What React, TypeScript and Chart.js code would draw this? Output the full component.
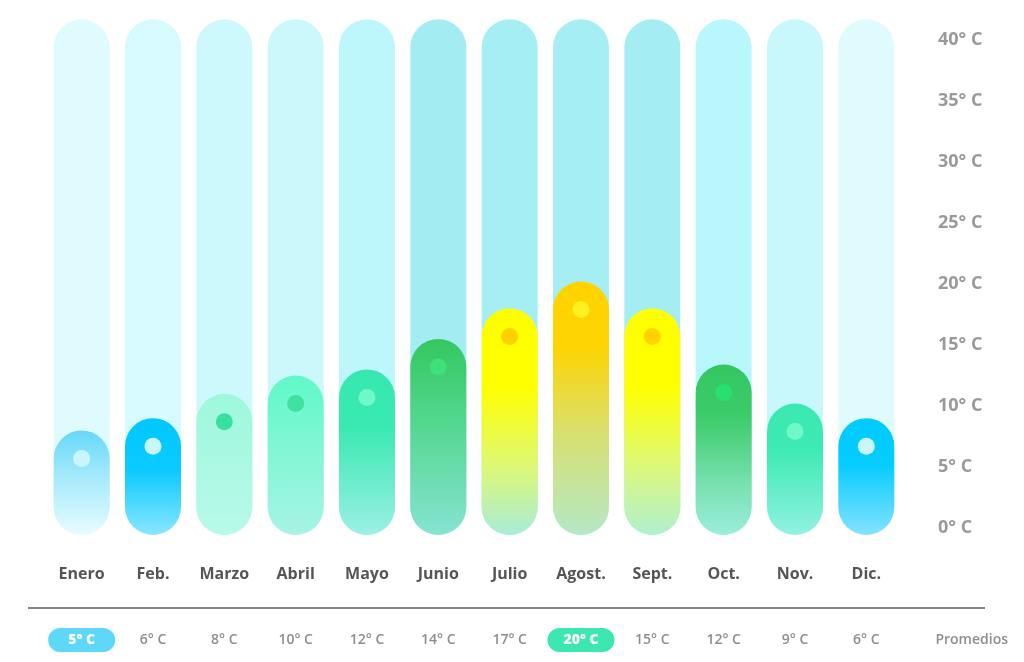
import React, { useEffect, useRef } from "react";
import { Chart, registerables } from "chart.js";

Chart.register(...registerables);

const MONTHS = ["Enero", "Feb.", "Marzo", "Abril", "Mayo", "Junio", "Julio", "Agost.", "Sept.", "Oct.", "Nov.", "Dic."];
const MAX_TEMPS = [8, 9, 11, 12.5, 13, 15.5, 18, 20.2, 18, 13.4, 10.2, 9];
const SCALE_TOP = [41.7, 41.7, 41.7, 41.7, 41.7, 41.7, 41.7, 41.7, 41.7, 41.7, 41.7, 41.7];
const AVERAGES = [5, 6, 8, 10, 12, 14, 17, 20, 15, 12, 9, 6];
const Y_TICKS = [0, 5, 10, 15, 20, 25, 30, 35, 40];
const Y_MIN = -0.57;
const Y_MAX = 41.72;
const AVG_LABEL = "Promedios";

const TRACK_COLORS = ["#e0fbfe", "#d6fafd", "#cef9fc", "#cbf8fb", "#bdf6fb", "#a3ecf2", "#a5eef3", "#a5eff4", "#a4eef3", "#b8f7fc", "#c8f8fc", "#e0fbfe"];
const GRADIENTS: [number, string][][] = [
  [[0, "#66d8f9"], [0.45, "#a6eafb"], [1, "#e8fcff"]],
  [[0, "#00c8fe"], [0.45, "#0ccaff"], [1, "#8ae6ff"]],
  [[0, "#9ef8dc"], [1, "#b8f9ea"]],
  [[0, "#60f9c8"], [1, "#a8f3e4"]],
  [[0, "#36e8b0"], [0.35, "#3ae9b2"], [1, "#9cf0e4"]],
  [[0, "#33c760"], [0.4, "#52d68c"], [1, "#86e3d2"]],
  [[0, "#ffff00"], [0.35, "#ffff00"], [0.7, "#ddf877"], [1, "#a8ecd8"]],
  [[0, "#ffd300"], [0.25, "#ffd400"], [0.6, "#d8e070"], [1, "#b4e8c6"]],
  [[0, "#ffff00"], [0.35, "#ffff00"], [0.7, "#dcf87a"], [1, "#b0f0d0"]],
  [[0, "#33c762"], [0.3, "#3ccc6a"], [0.7, "#78e0b0"], [1, "#9aeedc"]],
  [[0, "#3ae9b0"], [0.35, "#3eeab4"], [1, "#92f2e0"]],
  [[0, "#00cbff"], [0.4, "#06ccff"], [1, "#84e3ff"]],
];
const DOT_COLORS = ["#c8f6fc", "#c8f6fc", "#38e0a0", "#40e0a0", "#6ff8c8", "#3de07a", "#ffd000", "#fff020", "#ffd200", "#28e070", "#70f8c8", "#c8f6fc"];

const FONT = "'Open Sans', 'DejaVu Sans', sans-serif";

export default function App() {
  const ref = useRef<HTMLCanvasElement | null>(null);

  useEffect(() => {
    if (!ref.current) return;
    const minIdx = AVERAGES.indexOf(Math.min(...AVERAGES));
    const maxIdx = AVERAGES.indexOf(Math.max(...AVERAGES));

    const decor = {
      id: "decor",
      afterDatasetsDraw(chart: any) {
        const ctx = chart.ctx;
        const meta = chart.getDatasetMeta(0);
        meta.data.forEach((bar: any, i: number) => {
          const half = bar.width / 2;
          ctx.save();
          ctx.beginPath();
          ctx.arc(bar.x, bar.y + half, 8.5, 0, Math.PI * 2);
          ctx.fillStyle = DOT_COLORS[i];
          ctx.fill();
          ctx.restore();
        });
        ctx.save();
        ctx.strokeStyle = "#5e5e5e";
        ctx.lineWidth = 1.6;
        ctx.beginPath();
        ctx.moveTo(28, 608);
        ctx.lineTo(985, 608);
        ctx.stroke();
        const x = chart.scales.x;
        const rowY = 640;
        AVERAGES.forEach((v, i) => {
          const cx = x.getPixelForValue(i);
          const text = v + "° C";
          const hi = i === minIdx || i === maxIdx;
          if (hi) {
            const w = 67, h = 24;
            ctx.fillStyle = i === minIdx ? "#5dd8f8" : "#3de8b0";
            ctx.beginPath();
            ctx.roundRect(cx - w / 2, rowY - h / 2, w, h, h / 2);
            ctx.fill();
            ctx.fillStyle = "#ffffff";
            ctx.font = `800 14px ${FONT}`;
          } else {
            ctx.fillStyle = "#8e8e8e";
            ctx.font = `600 14px ${FONT}`;
          }
          ctx.textAlign = "center";
          ctx.textBaseline = "middle";
          ctx.fillText(text, cx, rowY);
        });
        ctx.fillStyle = "#8e8e8e";
        ctx.font = `600 14px ${FONT}`;
        ctx.textAlign = "right";
        ctx.fillText(AVG_LABEL, 1008, rowY);
        ctx.restore();
      },
    };

    const gradientFor = (context: any) => {
      const chart = context.chart;
      const i = context.dataIndex;
      const y = chart.scales && chart.scales.y;
      if (!chart.chartArea || !y || i === undefined) return GRADIENTS[0][0][1];
      const top = y.getPixelForValue(MAX_TEMPS[i]);
      const bottom = y.getPixelForValue(Y_MIN);
      const g = chart.ctx.createLinearGradient(0, top, 0, bottom);
      GRADIENTS[i].forEach(([o, c]) => g.addColorStop(o, c));
      return g;
    };

    const chart = new Chart(ref.current, {
      type: "bar",
      data: {
        labels: MONTHS,
        datasets: [
          {
            data: MAX_TEMPS,
            backgroundColor: gradientFor,
            borderRadius: 100,
            borderSkipped: false,
            grouped: false,
            base: Y_MIN,
            order: 0,
            categoryPercentage: 1,
            barPercentage: 0.785,
          } as any,
          {
            data: SCALE_TOP,
            backgroundColor: TRACK_COLORS,
            borderRadius: 100,
            borderSkipped: false,
            grouped: false,
            base: Y_MIN,
            order: 1,
            categoryPercentage: 1,
            barPercentage: 0.785,
          } as any,
        ],
      },
      options: {
        responsive: false,
        animation: false,
        layout: { padding: { left: 46, top: 19, right: 0, bottom: 0 } },
        plugins: { legend: { display: false }, tooltip: { enabled: false } },
        scales: {
          x: {
            grid: { display: false, drawTicks: false },
            border: { display: false },
            ticks: {
              padding: 30,
              color: "#555555",
              font: { family: FONT, size: 16, weight: "bold" },
              maxRotation: 0,
              autoSkip: false,
            },
            afterFit: (s: any) => {
              s.height = 127;
              s.paddingLeft = 0;
              s.paddingRight = 0;
            },
          },
          y: {
            position: "right",
            min: Y_MIN,
            max: Y_MAX,
            grid: { display: false, drawTicks: false },
            border: { display: false },
            ticks: {
              padding: 36,
              color: "#9a9a9a",
              font: { family: FONT, size: 18, weight: "bold" },
              callback: (v: any) => `${v}° C`,
            },
            afterBuildTicks: (s: any) => {
              s.ticks = Y_TICKS.map((v) => ({ value: v }));
            },
            afterFit: (s: any) => {
              s.width = 122;
              s.paddingTop = 0;
              s.paddingBottom = 0;
            },
          },
        },
      } as any,
      plugins: [decor],
    });
    return () => chart.destroy();
  }, []);

  return (
    <div style={{ position: "absolute", left: 0, top: 0, width: 1024, height: 662, background: "#ffffff" }}>
      <canvas ref={ref} width={1024} height={662} style={{ width: 1024, height: 662, display: "block" }} />
    </div>
  );
}
